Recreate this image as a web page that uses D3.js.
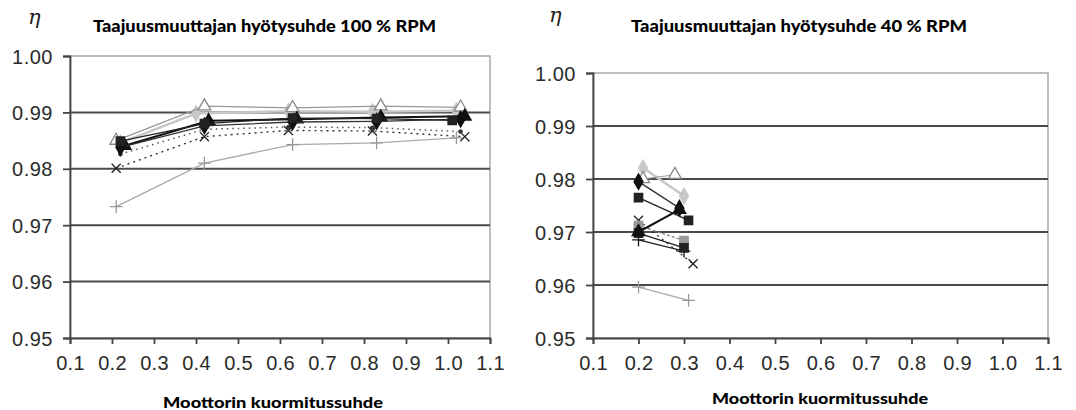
<!DOCTYPE html>
<html><head><meta charset="utf-8">
<script src="https://cdn.jsdelivr.net/npm/d3@7"></script>
<style>
html,body{margin:0;padding:0;background:#fff;}
svg{display:block;}
</style></head>
<body>
<svg id="c" width="1076" height="410"></svg>
<script>
// ---------- data ----------
const xTicks = [0.1,0.2,0.3,0.4,0.5,0.6,0.7,0.8,0.9,1.0,1.1];
const yTicks = [0.95,0.96,0.97,0.98,0.99,1.00];
const titleLeft = "Taajuusmuuttajan hyötysuhde 100 % RPM";
const titleRight = "Taajuusmuuttajan hyötysuhde 40 % RPM";
const xTitle = "Moottorin kuormitussuhde";
const yTitle = "η";

// 100 % RPM series: [load ratio, efficiency]
const full_triOpen  = [[0.21,0.9850],[0.42,0.9911],[0.63,0.9908],[0.84,0.9911],[1.03,0.9909]];
const full_diaLight = [[0.22,0.9846],[0.40,0.9898],[0.62,0.9902],[0.82,0.9901],[1.02,0.9903]];
const full_square   = [[0.22,0.9849],[0.42,0.9880],[0.63,0.9890],[0.83,0.9889],[1.01,0.9886]];
const full_diamond  = [[0.22,0.9838],[0.42,0.9876],[0.63,0.9883],[0.83,0.9884],[1.03,0.9888]];
const full_triangle = [[0.23,0.9841],[0.43,0.9885],[0.64,0.9888],[0.84,0.9891],[1.04,0.9893]];
const full_dots     = [[0.22,0.9826],[0.42,0.9870],[0.62,0.9874],[0.82,0.9873],[1.03,0.9866]];
const full_asterisk = [[0.21,0.9801],[0.42,0.9857],[0.62,0.9868],[0.82,0.9867],[1.04,0.9857]];
const full_plus     = [[0.21,0.9733],[0.42,0.9810],[0.63,0.9843],[0.83,0.9846],[1.02,0.9855]];

// 40 % RPM series
const low_diaLight = [[0.21,0.9821],[0.30,0.9768]];
const low_triOpen  = [[0.21,0.9800],[0.28,0.9808]];
const low_diamond  = [[0.20,0.9795],[0.29,0.9745]];
const low_square   = [[0.20,0.9765],[0.31,0.9722]];
const low_triangle = [[0.20,0.9700],[0.29,0.9742]];
const low_sqGray   = [[0.20,0.9712],[0.30,0.9684]];
const low_square2  = [[0.20,0.9698],[0.30,0.9670]];
const low_asterisk = [[0.20,0.9722],[0.32,0.9640]];
const low_plus     = [[0.20,0.9685],[0.30,0.9664]];
const low_plusGray = [[0.20,0.9596],[0.31,0.9571]];

// ---------- styles ----------
const S = {
  triOpen:  {sym:d3.symbolTriangle, size:70, fill:"#fff", stroke:"#888", line:"#999", w:1.2, dash:null},
  diaLight: {sym:d3.symbolDiamond, size:70, fill:"#c8c8c8", stroke:"#c8c8c8", line:"#c8c8c8", w:2.5, dash:null},
  square:   {sym:d3.symbolSquare, size:70, fill:"#222", stroke:"#222", line:"#222", w:1.3, dash:null},
  diamond:  {sym:d3.symbolDiamond, size:70, fill:"#111", stroke:"#111", line:"#333", w:1.3, dash:null},
  triangle: {sym:d3.symbolTriangle, size:70, fill:"#111", stroke:"#111", line:"#111", w:2, dash:null},
  dots:     {sym:d3.symbolCircle, size:8, fill:"#333", stroke:"#333", line:"#555", w:1.5, dash:"1.5,4"},
  asterisk: {sym:d3.symbolTimes, size:55, fill:"none", stroke:"#222", line:"#333", w:1.4, dash:"2,4"},
  plus:     {sym:d3.symbolPlus, size:55, fill:"none", stroke:"#999", line:"#aaa", w:1.3, dash:null},
  plusBlk:  {sym:d3.symbolPlus, size:55, fill:"none", stroke:"#111", line:"#222", w:1.3, dash:null},
  sqGray:   {sym:d3.symbolSquare, size:70, fill:"#999", stroke:"#999", line:"#888", w:1.3, dash:"3,2"},
};

const fullSeries = [
  [full_plus,S.plus],[full_asterisk,S.asterisk],[full_dots,S.dots],[full_diaLight,S.diaLight],
  [full_triOpen,S.triOpen],[full_triangle,S.triangle],[full_diamond,S.diamond],[full_square,S.square]
];
const lowSeries = [
  [low_plusGray,S.plus],[low_asterisk,S.asterisk],[low_sqGray,S.sqGray],[low_plus,S.plusBlk],
  [low_square2,S.square],[low_triangle,S.triangle],[low_diaLight,S.diaLight],[low_triOpen,S.triOpen],
  [low_square,S.square],[low_diamond,S.diamond]
];

const svg = d3.select("#c");

function panel(opt){
  const x = d3.scaleLinear().domain([0.1,1.1]).range([opt.x0,opt.x1]);
  const y = d3.scaleLinear().domain([0.95,1.00]).range([opt.yb,opt.yt]);
  const g = svg.append("g");

  g.append("rect").attr("x",opt.x0).attr("y",opt.yt).attr("width",opt.x1-opt.x0).attr("height",opt.yb-opt.yt)
    .attr("fill","none").attr("stroke","#a8a8a8").attr("stroke-width",1.5);
  g.selectAll(".grid").data(yTicks.slice(1,5)).join("line")
    .attr("x1",opt.x0).attr("x2",opt.x1).attr("y1",d=>y(d)).attr("y2",d=>y(d))
    .attr("stroke","#4a4a4a").attr("stroke-width",2);

  const ya = g.append("g").attr("transform",`translate(${opt.x0},0)`)
    .call(d3.axisLeft(y).tickValues(yTicks).tickFormat(d3.format(".2f")).tickSize(7).tickPadding(10));
  ya.select(".domain").attr("stroke","#444").attr("stroke-width",1.8);
  ya.selectAll(".tick line").attr("stroke","#444").attr("stroke-width",1.8);
  ya.selectAll(".tick text").attr("fill","#2a2a2a").attr("font-family","Liberation Sans, Arial, sans-serif")
    .attr("font-size",20).attr("letter-spacing","0.5px").attr("dy","0.35em");

  const xa = g.append("g").attr("transform",`translate(0,${opt.yb})`)
    .call(d3.axisBottom(x).tickValues(xTicks).tickFormat(d3.format(".1f")).tickSize(6).tickPadding(12));
  xa.select(".domain").attr("stroke","#444").attr("stroke-width",1.8);
  xa.selectAll(".tick line").attr("stroke","#444").attr("stroke-width",1.8);
  xa.selectAll(".tick text").attr("fill","#2a2a2a").attr("font-family","Liberation Sans, Arial, sans-serif")
    .attr("font-size",20).attr("letter-spacing","0.3px");

  const line = d3.line().x(d=>x(d[0])).y(d=>y(d[1]));
  opt.series.forEach(([data,st])=>{
    g.append("path").attr("d",line(data)).attr("fill","none").attr("stroke",st.line)
      .attr("stroke-width",st.w).attr("stroke-dasharray",st.dash);
    g.selectAll(null).data(data).join("path")
      .attr("transform",d=>`translate(${x(d[0])},${y(d[1])})`)
      .attr("d",d3.symbol().type(st.sym).size(st.size))
      .attr("fill",st.fill).attr("stroke",st.stroke).attr("stroke-width",1.3);
  });

  g.append("text").text(opt.title).attr("x",opt.tx).attr("y",32)
    .attr("font-family","Lato, Open Sans, sans-serif").attr("font-weight","900").attr("font-size",16)
    .attr("fill","#000").attr("textLength",opt.tw).attr("lengthAdjust","spacingAndGlyphs");
  g.append("text").text(xTitle).attr("x",opt.xtx).attr("y",opt.xty)
    .attr("font-family","Lato, Open Sans, sans-serif").attr("font-weight","900").attr("font-size",15.5)
    .attr("fill","#000").attr("textLength",opt.xtw).attr("lengthAdjust","spacingAndGlyphs");
  g.append("text").text(yTitle).attr("x",opt.ex).attr("y",opt.ey)
    .attr("font-family","DejaVu Serif, serif").attr("font-style","italic").attr("font-size",21).attr("fill","#222");
}

panel({x0:70,x1:490,yt:56,yb:338,series:fullSeries,title:titleLeft,tx:93,tw:343,
  xtx:163,xty:408,xtw:220,ex:28,ey:24});
panel({x0:593,x1:1048,yt:73,yb:338,series:lowSeries,title:titleRight,tx:631,tw:336,
  xtx:712,xty:404,xtw:216,ex:549,ey:22});
</script>
</body></html>
